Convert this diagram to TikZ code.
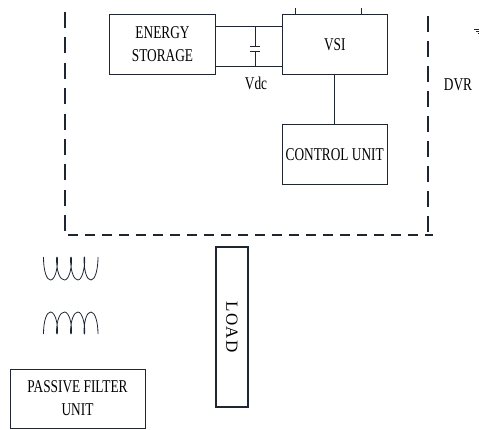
\documentclass[tikz,border=0pt]{standalone}
\usepackage{fontspec}
\setmainfont{Liberation Serif}
\newfontfamily\condfont[FakeStretch=0.74]{Liberation Serif}
\definecolor{ink}{RGB}{30,38,50}
\tikzset{x=1pt,y=-1pt,
 blk/.style={draw=ink,line width=1pt,inner sep=0pt,align=center,text=black,font=\condfont\fontsize{18}{23}\selectfont},
 wire/.style={draw=ink,line width=1pt},
 dashline/.style={draw=ink,line width=1.3pt,dash pattern=on 10pt off 7pt},
 lbl/.style={inner sep=0pt,text=black,font=\condfont\fontsize{18}{20}\selectfont},
 coil/.style={draw=ink,line width=.8pt}}
\begin{document}
\begin{tikzpicture}
\useasboundingbox (0,0) rectangle (479,429);
\node[blk,minimum width=106pt,minimum height=60pt] (es) at (162.5,44.5) {ENERGY\\STORAGE};
\node[blk,minimum width=105.5pt,minimum height=60pt] (vsi) at (334.75,44.5) {VSI};
\node[blk,minimum width=105.5pt,minimum height=60pt] (cu) at (334.75,154.5) {CONTROL UNIT};
\node[blk,line width=1.4pt,minimum width=160pt,minimum height=32pt,rotate=-90,font=\fontsize{17}{20}\selectfont\addfontfeatures{LetterSpace=8}] (load) at (232,327) {LOAD};
\node[blk,line width=.8pt,minimum width=135pt,minimum height=59pt] (pf) at (77.5,398.5) {PASSIVE FILTER\\UNIT};
\node[lbl] (vdc) at (256,83) {Vdc};
\node[lbl] (dvr) at (458,85) {DVR};
\coordinate (a1) at (es.east |- 0,26);
\coordinate (a2) at (vsi.west |- 0,26);
\coordinate (b1) at (es.east |- 0,66.5);
\coordinate (b2) at (vsi.west |- 0,66.5);
\draw[wire] (a1) -- (a2);
\draw[wire] (b1) -- (b2);
\coordinate (c1) at (255,26);\coordinate (c2) at (255,46);\coordinate (c3) at (255,51);\coordinate (c4) at (255,66.5);
\draw[wire] (c1) -- (c2) (c3) -- (c4);
\draw[wire] (250,46) -- (260,46) (250,51) -- (260,51);
\draw[wire] (vsi) -- (cu);
\draw[wire] (295,8) -- (295,14) (361,8) -- (361,14);
\coordinate (tl) at (65,12);\coordinate (bl) at (65,232);\coordinate (bl2) at (68,235);\coordinate (br) at (433,235);\coordinate (tr) at (428,16);\coordinate (br2) at (428,235);
\draw[dashline,dash pattern=on 16pt off 9.4pt] (tl) -- (bl);
\draw[dashline] (bl2) -- (br);
\draw[dashline,dash pattern=on 16pt off 9pt] (tr) -- (br2);
\draw[coil] (43.5,257) .. controls (43.5,272) and (47,280) .. (50.5,280) .. controls (55,280) and (58,268) .. (57.5,258)
 .. controls (57.2,257) and (56.8,257) .. (56.5,258) .. controls (56.5,272) and (60,280) .. (64.5,280) .. controls (69,280) and (72,268) .. (71.5,258)
 .. controls (71.2,257) and (70.8,257) .. (70.5,258) .. controls (70.5,272) and (74,280) .. (78,280) .. controls (82,280) and (85,268) .. (84.8,258)
 .. controls (84.5,257) and (84.2,257) .. (84,258) .. controls (84,272) and (87,280) .. (91,280) .. controls (95,280) and (98,270) .. (98,257);
\draw[coil] (43.5,334) .. controls (43.5,320) and (47,312) .. (50.5,312) .. controls (55,312) and (58,323) .. (57.5,333)
 .. controls (57.2,334) and (56.8,334) .. (56.5,333) .. controls (56.5,320) and (60,312) .. (64.5,312) .. controls (69,312) and (72,323) .. (71.5,333)
 .. controls (71.2,334) and (70.8,334) .. (70.5,333) .. controls (70.5,320) and (74,312) .. (78,312) .. controls (82,312) and (85,323) .. (84.8,333)
 .. controls (84.5,334) and (84.2,334) .. (84,333) .. controls (84,320) and (87,312) .. (91,312) .. controls (95,312) and (98,322) .. (98,334);
\draw[wire,line width=.8pt] (474,29) -- (479,29) (476,31) -- (479,31) (477.5,33) -- (479,33);
\end{tikzpicture}
\end{document}
